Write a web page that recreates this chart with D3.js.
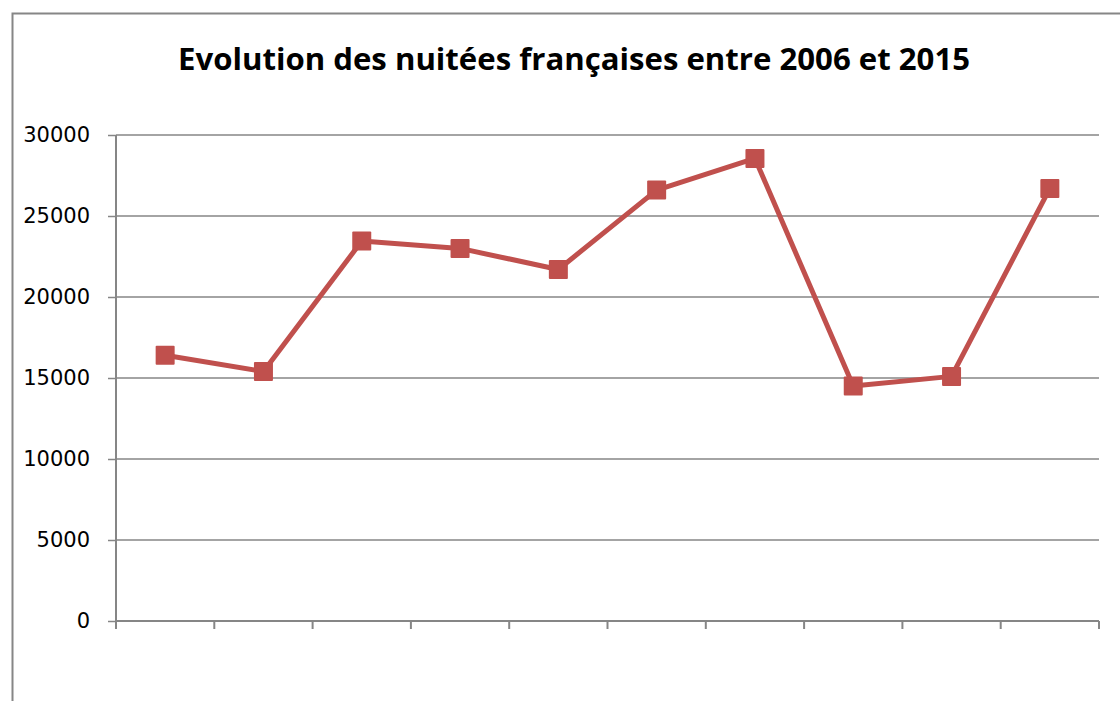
<!DOCTYPE html>
<html>
<head>
<meta charset="utf-8">
<script src="https://cdnjs.cloudflare.com/ajax/libs/d3/7.8.5/d3.min.js"></script>
<style>
  body { margin: 0; background: #fff; }
  svg { display: block; }
</style>
</head>
<body>
<svg id="canvas" width="1120" height="701"></svg>
<script>
var years = ["2006", "2007", "2008", "2009", "2010", "2011", "2012", "2013", "2014", "2015"];
var nights = [16400, 15400, 23450, 23000, 21700, 26600, 28550, 14500, 15100, 26700];
var yTicks = [0, 5000, 10000, 15000, 20000, 25000, 30000];

var width = 1120;
var height = 701;
var margins = { left: 116, right: 21, top: 135, bottom: 80 };
var gridColor = "#868686";
var lineColor = "#C0504D";

var canvas = d3.select("#canvas");

// outer chart border (runs off the right and bottom edges)
canvas.append("path")
  .attr("d", "M12.5," + (height + 5) + " L12.5,13.5 L" + (width + 5) + ",13.5")
  .attr("fill", "none")
  .attr("stroke", gridColor)
  .attr("stroke-width", 2);

// title
canvas.append("text")
  .attr("x", 574)
  .attr("y", 70)
  .attr("text-anchor", "middle")
  .attr("font-family", "'Open Sans', sans-serif")
  .attr("font-weight", "bold")
  .attr("font-size", 30)
  .attr("textLength", 792)
  .attr("lengthAdjust", "spacingAndGlyphs")
  .attr("fill", "#000")
  .text("Evolution des nuitées françaises entre 2006 et 2015");

var x = d3.scaleBand()
  .domain(years)
  .range([margins.left, width - margins.right]);

var y = d3.scaleLinear()
  .domain([0, 30000])
  .range([height - margins.bottom, margins.top]);

// horizontal grid lines
canvas.append("g")
  .selectAll("line")
  .data(yTicks.filter(function(d) { return d > 0; }))
  .enter()
  .append("line")
  .attr("x1", margins.left)
  .attr("x2", width - margins.right)
  .attr("y1", function(d) { return y(d); })
  .attr("y2", function(d) { return y(d); })
  .attr("stroke", gridColor)
  .attr("stroke-width", 1.5);

// y axis
var yAxis = canvas.append("g")
  .attr("transform", "translate(" + margins.left + ",0)")
  .call(
    d3.axisLeft(y)
      .tickValues(yTicks)
      .tickSize(8)
      .tickPadding(18)
      .tickFormat(d3.format("d"))
  );
yAxis.select(".domain").remove();
yAxis.append("line")
  .attr("x1", 0).attr("x2", 0)
  .attr("y1", y(30000)).attr("y2", y(0))
  .attr("stroke", gridColor).attr("stroke-width", 2);
yAxis.selectAll(".tick line").attr("stroke", gridColor).attr("stroke-width", 1.5);
yAxis.selectAll(".tick text")
  .attr("fill", "#000")
  .attr("font-family", "'DejaVu Sans', sans-serif")
  .attr("font-size", 21);

// x axis (ticks on band boundaries, no labels)
var bounds = years.map(function(d) { return x(d); }).concat([x.range()[1]]);
var xAxis = canvas.append("g");
xAxis.append("line")
  .attr("x1", margins.left).attr("x2", width - margins.right)
  .attr("y1", y(0)).attr("y2", y(0))
  .attr("stroke", gridColor).attr("stroke-width", 2);
xAxis.selectAll("line.tick")
  .data(bounds)
  .enter()
  .append("line")
  .attr("class", "tick")
  .attr("x1", function(d) { return d; })
  .attr("x2", function(d) { return d; })
  .attr("y1", y(0))
  .attr("y2", y(0) + 8)
  .attr("stroke", gridColor)
  .attr("stroke-width", 2);

// series line
var line = d3.line()
  .x(function(d, i) { return x(years[i]) + x.bandwidth() / 2; })
  .y(function(d) { return y(d); });

canvas.append("path")
  .datum(nights)
  .attr("d", line)
  .attr("fill", "none")
  .attr("stroke", lineColor)
  .attr("stroke-width", 5)
  .attr("stroke-linejoin", "round");

// square markers
var size = 19;
canvas.append("g")
  .selectAll("rect")
  .data(nights)
  .enter()
  .append("rect")
  .attr("x", function(d, i) { return x(years[i]) + x.bandwidth() / 2 - size / 2; })
  .attr("y", function(d) { return y(d) - size / 2; })
  .attr("width", size)
  .attr("height", size)
  .attr("rx", 1)
  .attr("fill", lineColor);
</script>
</body>
</html>
